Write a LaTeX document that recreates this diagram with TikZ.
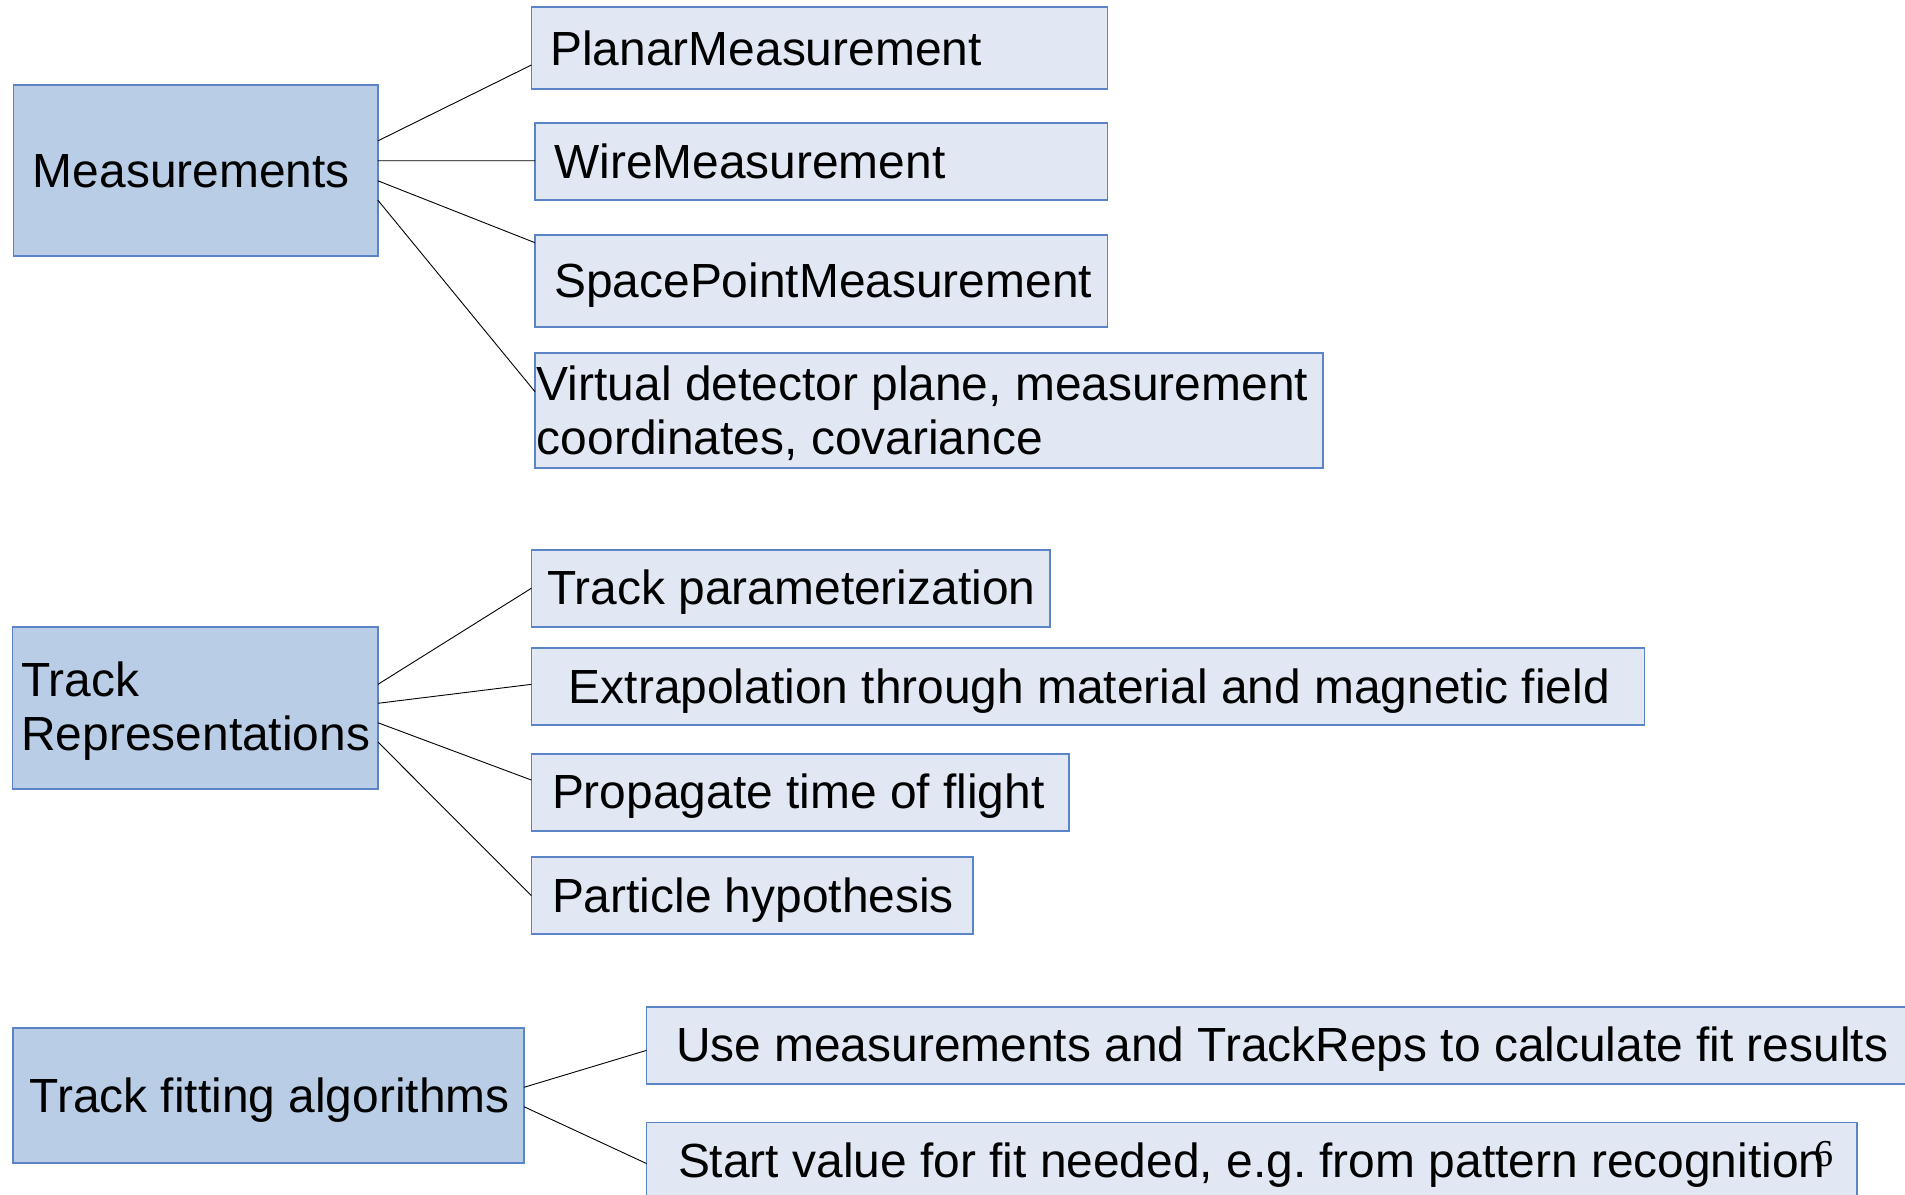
\documentclass[tikz,border=0pt]{standalone}
\usepackage{fontspec}
\setmainfont{Liberation Sans}
\newfontfamily\pagenofont{Liberation Serif}
\usetikzlibrary{fit,calc}
\frenchspacing
\definecolor{edgeblue}{HTML}{5A84C6}
\definecolor{topfill}{HTML}{B9CEE6}
\definecolor{subfill}{HTML}{E1E8F4}
\tikzset{
  basebox/.style={rectangle, draw=edgeblue, line width=0.85pt, inner sep=0pt, outer sep=0pt},
  topbox/.style={basebox, fill=topfill},
  subbox/.style={basebox, fill=subfill},
  txt/.style={anchor=base west, inner sep=0pt, outer sep=0pt,
    font=\fontsize{23.95pt}{27pt}\selectfont},
  conn/.style={draw=black, line width=0.45pt},
}
\begin{document}
\begin{tikzpicture}[x=0.5pt, y=-0.5pt]
\useasboundingbox (0,0) rectangle (1905,1194);

% ---- Measurements ----
\node[topbox, fit={(13.4,85) (377.8,256)}] (meas) {};
\node[txt] (meas-t) at (32.9,187.7) {Measurements};

\node[subbox, fit={(531.4,7.3) (1107.6,88.7)}] (planar) {};
\node[txt] (planar-t) at (550.4,65) {PlanarMeasurement};

\node[subbox, fit={(535,122.7) (1107.6,199.7)}] (wire) {};
\node[txt] (wire-t) at (554.2,178) {WireMeasurement};

\node[subbox, fit={(535,234.7) (1107.6,326.7)}] (space) {};
\node[txt] (space-t) at (554.2,297) {SpacePointMeasurement};

\node[subbox, fit={(535,353.3) (1322.8,468.3)}] (virtual) {};
\node[txt] (virtual-t1) at (536.9,400) {Virtual detector plane, measurement};
\node[txt] (virtual-t2) at (536.9,454) {coordinates, covariance};

\draw[conn] ($(meas.north east)!0.327!(meas.south east)$) -- ($(planar.north west)!0.709!(planar.south west)$);
\draw[conn] ($(meas.north east)!0.443!(meas.south east)$) -- ($(wire.north west)!0.494!(wire.south west)$);
\draw[conn] ($(meas.north east)!0.560!(meas.south east)$) -- ($(space.north west)!0.087!(space.south west)$);
\draw[conn] ($(meas.north east)!0.673!(meas.south east)$) -- ($(virtual.north west)!0.334!(virtual.south west)$);

% ---- Track Representations ----
\node[topbox, fit={(12.5,627) (378,789.3)}] (trep) {};
\node[txt] (trep-t1) at (21.4,696.7) {Track};
\node[txt] (trep-t2) at (21.4,750.7) {Representations};

\node[subbox, fit={(531.4,550) (1050,627.3)}] (tpar) {};
\node[txt] (tpar-t) at (547.4,604.5) {Track parameterization};

\node[subbox, fit={(531.4,648.3) (1644.6,725.3)}] (extra) {};
\node[txt] (extra-t) at (568.9,703.3) {Extrapolation through material and magnetic field};

\node[subbox, fit={(531.4,753.7) (1069,830.7)}] (prop) {};
\node[txt] (prop-t) at (552,808.7) {Propagate time of flight};

\node[subbox, fit={(531.4,857.3) (973,934.3)}] (part) {};
\node[txt] (part-t) at (552,912.3) {Particle hypothesis};

\draw[conn] ($(trep.north east)!0.353!(trep.south east)$) -- ($(tpar.north west)!0.495!(tpar.south west)$);
\draw[conn] ($(trep.north east)!0.470!(trep.south east)$) -- ($(extra.north west)!0.468!(extra.south west)$);
\draw[conn] ($(trep.north east)!0.590!(trep.south east)$) -- ($(prop.north west)!0.342!(prop.south west)$);
\draw[conn] ($(trep.north east)!0.709!(trep.south east)$) -- ($(part.north west)!0.499!(part.south west)$);

% ---- Track fitting algorithms ----
\node[topbox, fit={(12.8,1028.3) (524,1163)}] (tfit) {};
\node[txt] (tfit-t) at (29.6,1112) {Track fitting algorithms};

\node[subbox, fit={(646.4,1007.3) (1935,1084)}] (use) {};
\node[txt] (use-t) at (676,1061.8) {Use measurements and TrackReps to calculate fit results};

\node[subbox, fit={(646.4,1122.5) (1856.7,1199.5)}] (start) {};
\node[txt] (start-t) at (678,1177) {Start value for fit needed, e.g. from pattern recognition};

\draw[conn] ($(tfit.north east)!0.438!(tfit.south east)$) -- ($(use.north west)!0.562!(use.south west)$);
\draw[conn] ($(tfit.north east)!0.582!(tfit.south east)$) -- ($(start.north west)!0.532!(start.south west)$);

% page number
\node[anchor=base west, inner sep=0pt, font=\pagenofont\fontsize{19pt}{22pt}\selectfont] (pageno) at (1814,1166) {6};
\end{tikzpicture}
\end{document}
